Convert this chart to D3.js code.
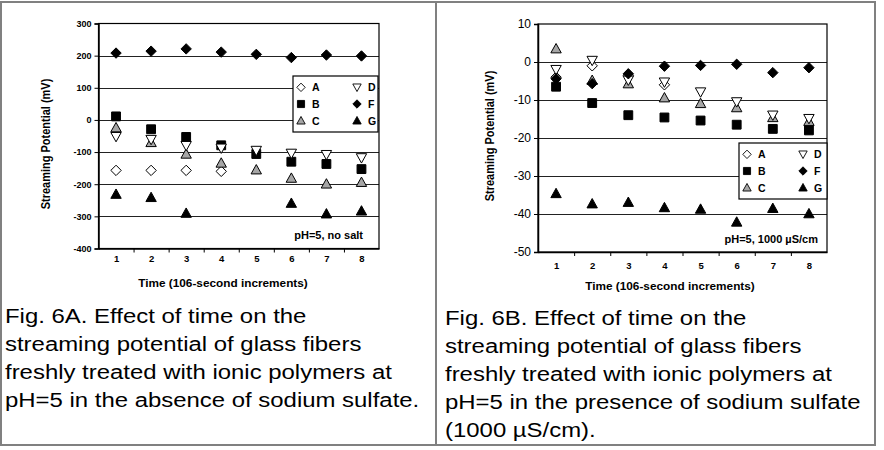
<!DOCTYPE html>
<html>
<head>
<meta charset="utf-8">
<script src="https://cdn.jsdelivr.net/npm/d3@7"></script>
<style>
  body { margin: 0; background: #fff; }
  svg { display: block; font-family: "Liberation Sans", Arial, sans-serif; }
</style>
</head>
<body>
<svg width="884" height="450"></svg>
<script>
// time steps (106-second increments)
var times = [1, 2, 3, 4, 5, 6, 7, 8];
var seriesNames = ["A", "B", "C", "D", "F", "G"];

// Fig 6A: pH=5, no salt (mV)
var noSaltA = [-157, -157, -157, -160, null, null, null, null];
var noSaltB = [11, -29, -53, -79, -106, -130, -137, -153];
var noSaltC = [-24, -70, -106, -134, -155, -181, -199, -194];
var noSaltD = [-52, -61, -80, -88, -95, -104, -108, -118];
var noSaltF = [208, 214, 221, 211, 204, 194, 202, 199];
var noSaltG = [-231, -241, -290, null, null, -259, -292, -283];
var noSaltTicks = [300, 200, 100, 0, -100, -200, -300, -400];

// Fig 6B: pH=5, 1000 uS/cm (mV)
var saltA = [-4, -1, -3.5, -6, null, null, null, null];
var saltB = [-6.5, -10.8, -14.0, -14.6, -15.4, -16.5, -17.6, -18.0];
var saltC = [3.5, -4.8, -5.7, -9.4, -10.9, -12.0, -14.6, -15.6];
var saltD = [-2.0, 0.4, -4.8, -5.3, -7.9, -10.5, -14.0, -14.9];
var saltF = [-4.4, -5.7, -3.1, -1.1, -0.9, -0.6, -2.8, -1.5];
var saltG = [-34.6, -37.3, -36.9, -38.3, -38.7, -42.1, -38.5, -39.9];
var saltTicks = [10, 0, -10, -20, -30, -40, -50];

var svg = d3.select("svg");

// marker shapes: [shape, fill]
var markerStyle = {
    A: ["diamond", "#fff"],
    B: ["square", "#000"],
    C: ["up", "#a6a6a6"],
    D: ["down", "#fff"],
    F: ["diamond", "#000"],
    G: ["up", "#000"]
};

function shapePath(shape, r) {
    if (shape == "diamond") return "M0," + (-r) + "L" + r + ",0L0," + r + "L" + (-r) + ",0Z";
    if (shape == "square") { var s = r * 0.85; return "M" + (-s) + "," + (-s) + "H" + s + "V" + s + "H" + (-s) + "Z"; }
    if (shape == "up") return "M0," + (-r) + "L" + r + "," + (r * 0.8) + "L" + (-r) + "," + (r * 0.8) + "Z";
    return "M0," + r + "L" + r + "," + (-r * 0.8) + "L" + (-r) + "," + (-r * 0.8) + "Z";
}

// plain hyphen minus, as in the original
function plain(d) { return String(d); }

function drawPanel(p) {
    var g = svg.append("g");
    var x = d3.scaleLinear().domain([0.5, 8.5]).range([p.left, p.right]);
    var y = d3.scaleLinear().domain([p.ticks[p.ticks.length - 1], p.ticks[0]]).range([p.bottom, p.top]);

    // gridlines
    g.selectAll(".grid").data(p.ticks.slice(1, -1)).enter().append("line")
        .attr("x1", p.left).attr("x2", p.right)
        .attr("y1", function (d) { return Math.round(y(d)) + 0.5; })
        .attr("y2", function (d) { return Math.round(y(d)) + 0.5; })
        .attr("stroke", "#222").attr("stroke-width", 1);

    // plot frame
    g.append("rect")
        .attr("x", p.left).attr("y", p.top)
        .attr("width", p.right - p.left).attr("height", p.bottom - p.top)
        .attr("fill", "none").attr("stroke", "#000").attr("stroke-width", 1.2);

    // y axis
    var yAxis = g.append("g").attr("transform", "translate(" + p.left + ",0)")
        .call(d3.axisLeft(y).tickValues(p.ticks).tickFormat(plain).tickSize(4).tickPadding(p.yPad));
    yAxis.select(".domain").attr("stroke-width", 1.5);
    yAxis.selectAll("text")
        .style("font-size", p.yFont).style("font-weight", p.yBold ? "bold" : "normal")
        .attr("fill", "#000");

    // x axis labels and ticks between categories
    var xAxis = g.append("g").attr("transform", "translate(0," + p.bottom + ")")
        .call(d3.axisBottom(x).tickValues(times).tickFormat(plain).tickSize(0).tickPadding(p.xPad));
    xAxis.select(".domain").attr("stroke-width", 1.5);
    xAxis.selectAll("text").style("font-size", "9.5px").style("font-weight", "bold").attr("fill", "#000");
    g.append("g").attr("transform", "translate(0," + p.bottom + ")")
        .call(d3.axisBottom(x).tickValues([1.5, 2.5, 3.5, 4.5, 5.5, 6.5, 7.5]).tickSize(4).tickFormat(""))
        .select(".domain").remove();

    // axis titles
    g.append("text")
        .attr("transform", "translate(" + p.yTitleX + "," + p.yTitleY + ") scale(1.14,1) rotate(-90)")
        .attr("text-anchor", "middle").style("font-size", "11px").style("font-weight", "bold")
        .text("Streaming Potential  (mV)");
    g.append("text")
        .attr("x", p.xTitleX).attr("y", p.xTitleY)
        .attr("text-anchor", "middle").style("font-size", "11.8px").style("font-weight", "bold")
        .text("Time  (106-second increments)");

    // note
    g.append("text")
        .attr("x", p.noteX).attr("y", p.noteY)
        .attr("text-anchor", "end").style("font-size", "11px").style("font-weight", "bold")
        .text(p.note);

    // legend
    var lg = g.append("g");
    lg.append("rect")
        .attr("x", p.leg[0]).attr("y", p.leg[1]).attr("width", p.leg[2]).attr("height", p.leg[3])
        .attr("fill", "#fff").attr("stroke", "#000").attr("stroke-width", 1.2);
    var rowH = (p.leg[3] - 6) / 3;
    seriesNames.forEach(function (name, i) {
        var col = Math.floor(i / 3), row = i % 3;
        var lx = p.leg[0] + 8 + col * 56, ly = p.leg[1] + 3 + rowH * (row + 0.5);
        var st = markerStyle[name];
        lg.append("path").attr("d", shapePath(st[0], 4.2))
            .attr("transform", "translate(" + lx + "," + ly + ")")
            .attr("fill", st[1]).attr("stroke", "#000").attr("stroke-width", 0.9);
        lg.append("text").attr("x", lx + 11).attr("y", ly + 4)
            .style("font-size", "10.5px").style("font-weight", "bold").text(name);
    });

    // markers
    seriesNames.forEach(function (name) {
        var st = markerStyle[name];
        var pts = p.series[name].map(function (v, i) { return {t: times[i], v: v}; })
            .filter(function (d) { return d.v !== null; });
        g.append("g").selectAll("path").data(pts).enter().append("path")
            .attr("d", shapePath(st[0], 5.2))
            .attr("transform", function (d) { return "translate(" + x(d.t) + "," + y(d.v) + ")"; })
            .attr("fill", st[1]).attr("stroke", "#000").attr("stroke-width", 1);
    });

    // caption (the original is slightly widened)
    var cap = g.append("text")
        .attr("transform", "translate(" + p.capX + ",0) scale(1.14,1)")
        .style("font-size", "21px").attr("fill", "#000");
    p.caption.forEach(function (line, i) {
        cap.append("tspan").attr("x", 0).attr("y", p.capY + i * 28).text(line);
    });
}

drawPanel({
    left: 98.5, right: 379, top: 23.5, bottom: 248.5,
    ticks: noSaltTicks, yFont: "9px", yBold: true, yPad: 3, xPad: 7,
    yTitleX: 50, yTitleY: 144, xTitleX: 223, xTitleY: 287,
    note: "pH=5, no salt", noteX: 363, noteY: 239,
    leg: [293, 76, 85, 56],
    series: {A: noSaltA, B: noSaltB, C: noSaltC, D: noSaltD, F: noSaltF, G: noSaltG},
    caption: ["Fig. 6A.  Effect of time on the", "streaming potential of glass fibers",
        "freshly treated with ionic polymers at", "pH=5 in the absence of sodium sulfate."],
    capX: 5, capY: 323
});

drawPanel({
    left: 538, right: 827, top: 24, bottom: 252,
    ticks: saltTicks, yFont: "12px", yBold: false, yPad: 3, xPad: 10,
    yTitleX: 494, yTitleY: 136, xTitleX: 670, xTitleY: 290,
    note: "pH=5, 1000 \u00b5S/cm", noteX: 818, noteY: 243,
    leg: [739, 143, 88, 56],
    series: {A: saltA, B: saltB, C: saltC, D: saltD, F: saltF, G: saltG},
    caption: ["Fig. 6B.  Effect of time on the", "streaming potential of glass fibers",
        "freshly treated with ionic polymers at", "pH=5 in the presence of sodium sulfate",
        "(1000 \u00b5S/cm)."],
    capX: 445, capY: 325
});

// table borders
var border = svg.append("g").attr("stroke", "#808080").attr("stroke-width", 2).attr("fill", "none");
border.append("rect").attr("x", 1).attr("y", 2).attr("width", 874).attr("height", 443);
border.append("line").attr("x1", 436).attr("x2", 436).attr("y1", 2).attr("y2", 445);
</script>
</body>
</html>
